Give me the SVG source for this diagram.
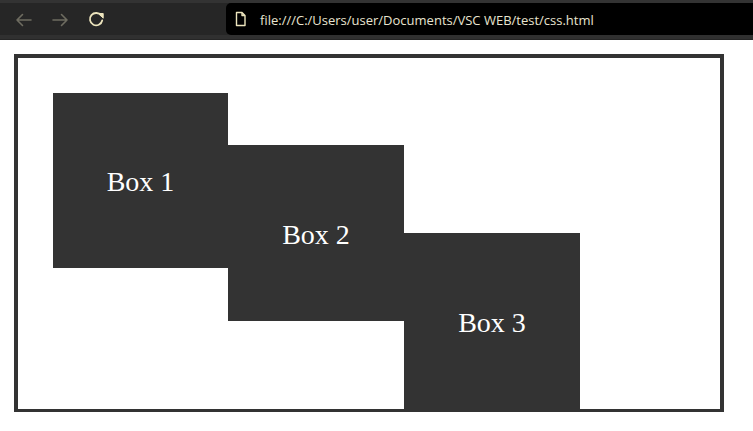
<svg xmlns="http://www.w3.org/2000/svg" width="753" height="431" viewBox="0 0 753 431">
  <style>
    .box { fill: #333333; }
    .lbl { font-family: "Liberation Serif", "Times New Roman", serif; font-size: 28px; fill: #ffffff; text-anchor: middle; }
    .url { font-family: "Open Sans", "Noto Sans", "Liberation Sans", sans-serif; font-size: 13px; fill: #e8e4d0; }
    .nav { fill: none; stroke: #6e6c60; stroke-width: 1.6; stroke-linecap: round; stroke-linejoin: round; }
  </style>
  <rect x="0" y="0" width="753" height="431" fill="#ffffff"/>
  <!-- browser chrome -->
  <g id="toolbar">
    <rect x="0" y="0" width="753" height="40" fill="#262626"/>
    <rect x="0" y="0" width="753" height="3" fill="#333333"/>
    <rect x="0" y="35" width="753" height="4" fill="#303030"/>
    <path class="nav" d="M17 20 H31 M17 20 L22.5 14.5 M17 20 L22.5 25.5"/>
    <path class="nav" d="M53 20 H67 M67 20 L61.5 14.5 M67 20 L61.5 25.5"/>
    <path d="M101.2 15.6 A6.2 6.2 0 1 0 102.2 20.5" fill="none" stroke="#ece4bd" stroke-width="1.8" stroke-linecap="round"/>
    <path d="M98.5 13.5 L103.2 13.5 L103.2 18.2 Z" fill="#ece4bd" stroke="#ece4bd" stroke-width="1" stroke-linejoin="round"/>
    <rect x="226" y="3" width="540" height="32" rx="5" fill="#000000"/>
    <path d="M236.5 12.5 H242 L245 15.5 V25.5 H236.5 Z M242 12.5 V15.5 H245" fill="none" stroke="#ece4bd" stroke-width="1.4" stroke-linejoin="round"/>
    <text class="url" x="260" y="25">file:///C:/Users/user/Documents/VSC WEB/test/css.html</text>
  </g>
  <!-- container -->
  <g id="container">
    <path d="M14 54 H724 V412 H14 Z M18 58 V409 H720 V58 Z" fill="#333333" fill-rule="evenodd"/>
  </g>
  <g id="box1">
    <rect class="box" x="53" y="93" width="175" height="175"/>
    <text class="lbl" x="140.5" y="191">Box 1</text>
  </g>
  <g id="box2">
    <rect class="box" x="228" y="145" width="176" height="176"/>
    <text class="lbl" x="316" y="243.5">Box 2</text>
  </g>
  <g id="box3">
    <rect class="box" x="404" y="233" width="176" height="176"/>
    <text class="lbl" x="492" y="331.5">Box 3</text>
  </g>
  <g id="connectors"></g>
</svg>
